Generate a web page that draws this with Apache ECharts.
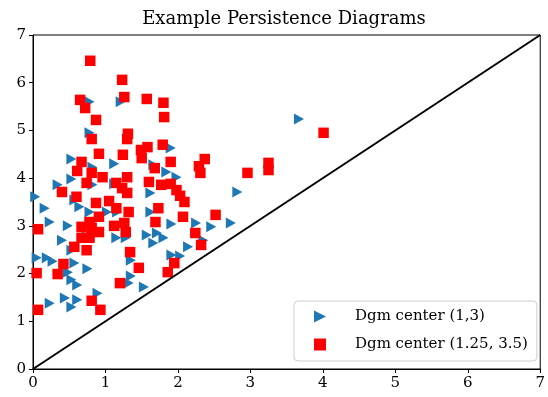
<!DOCTYPE html>
<html>
<head>
<meta charset="utf-8">
<script src="https://cdn.jsdelivr.net/npm/echarts@6/dist/echarts.min.js"></script>
<style>
  html, body { margin: 0; padding: 0; background: #fff; }
  #chart { width: 548px; height: 397px; }
</style>
</head>
<body>
<div id="chart"></div>
<script>
// Diagram 1: points (birth, death) around center (1, 3)
const dgmCenter1 = [
  [3.67, 5.24], [0.78, 5.60], [1.21, 5.60], [0.78, 4.95], [1.90, 4.63],
  [0.53, 4.40], [0.82, 4.23], [1.12, 4.30], [1.66, 4.28], [1.84, 4.13],
  [1.98, 4.02], [0.53, 3.98], [0.34, 3.86], [0.82, 3.86], [1.12, 3.88],
  [0.57, 3.54], [0.03, 3.61], [0.16, 3.37], [0.64, 3.40], [0.78, 3.29],
  [1.02, 3.29], [1.16, 3.29], [1.62, 3.69], [1.62, 3.29], [2.82, 3.71],
  [0.23, 3.08], [0.48, 3.00], [1.91, 3.04], [2.25, 3.06], [2.46, 2.98],
  [2.73, 3.06], [0.40, 2.70], [0.74, 2.77], [1.15, 2.75], [1.28, 2.75],
  [1.57, 2.81], [1.71, 2.85], [1.80, 2.75], [1.66, 2.64], [2.35, 2.70],
  [2.14, 2.56], [0.53, 2.49], [0.05, 2.33], [0.19, 2.33], [0.27, 2.26],
  [0.57, 2.22], [0.75, 2.10], [0.48, 2.03], [1.35, 2.28], [1.91, 2.39],
  [2.03, 2.37], [0.53, 1.87], [0.61, 1.76], [1.35, 1.95], [1.32, 1.80],
  [1.53, 1.72], [0.89, 1.59], [0.44, 1.49], [0.61, 1.45], [0.23, 1.38],
  [0.53, 1.30]
];

// Diagram 2: points (birth, death) around center (1.25, 3.5)
const dgmCenter2 = [
  [0.79, 6.46], [1.23, 6.06], [1.26, 5.70], [0.65, 5.64], [0.72, 5.47],
  [1.57, 5.66], [1.80, 5.58], [0.87, 5.22], [1.81, 5.28], [1.31, 4.93],
  [1.30, 4.82], [0.81, 4.82], [1.49, 4.59], [1.58, 4.65], [1.79, 4.70],
  [1.50, 4.42], [1.24, 4.49], [0.91, 4.51], [0.67, 4.34], [1.90, 4.34],
  [2.37, 4.40], [2.29, 4.25], [2.96, 4.11], [3.25, 4.32], [3.25, 4.17],
  [4.01, 4.95], [0.61, 4.15], [0.81, 4.11], [0.96, 4.02], [1.68, 4.21],
  [1.30, 4.02], [2.31, 4.11], [1.60, 3.92], [1.77, 3.86], [1.90, 3.88],
  [1.98, 3.75], [2.03, 3.63], [2.09, 3.50], [0.74, 3.90], [0.40, 3.71],
  [0.60, 3.61], [1.15, 3.90], [1.23, 3.79], [1.30, 3.69], [0.87, 3.48],
  [1.05, 3.52], [1.15, 3.37], [1.32, 3.29], [1.73, 3.37], [0.91, 3.19],
  [0.78, 3.08], [2.07, 3.19], [2.52, 3.23], [1.26, 3.06], [1.12, 3.00],
  [1.69, 3.08], [0.67, 2.98], [0.81, 2.96], [0.91, 2.87], [0.07, 2.93],
  [1.28, 2.87], [2.24, 2.85], [0.67, 2.75], [0.78, 2.75], [2.32, 2.60],
  [0.57, 2.56], [0.74, 2.49], [1.34, 2.45], [0.42, 2.20], [1.95, 2.22],
  [0.05, 2.01], [0.34, 1.99], [1.46, 2.12], [1.86, 2.03], [1.20, 1.80],
  [0.81, 1.43], [0.93, 1.24], [0.07, 1.24]
];

// Diagonal birth = death
const diagonal = [[0, 0], [7, 7]];

const axisTicks = [0, 1, 2, 3, 4, 5, 6, 7];
const seriesNames = ['Dgm center (1,3)', 'Dgm center (1.25, 3.5)'];
const titleText = 'Example Persistence Diagrams';

const FONT = 'DejaVu Serif';
const triPath = 'path://M0,0L10,5L0,10Z';

const chart = echarts.init(document.getElementById('chart'), null, { renderer: 'canvas' });

const axisCommon = {
  type: 'value',
  min: axisTicks[0],
  max: axisTicks[axisTicks.length - 1],
  interval: 1,
  axisLine: { show: true, onZero: false, lineStyle: { color: '#000', width: 1 } },
  axisTick: { show: true, inside: false, length: 4, lineStyle: { color: '#000', width: 1 } },
  axisLabel: { color: '#000', fontFamily: FONT, fontSize: 15, margin: 7 },
  splitLine: { show: false }
};

chart.setOption({
  animation: false,
  backgroundColor: '#fff',
  title: {
    text: titleText,
    left: 279,
    textAlign: 'center',
    top: 5,
    textStyle: { fontFamily: FONT, fontSize: 18, fontWeight: 'normal', color: '#000' }
  },
  grid: {
    left: 33, right: 2, top: 35, bottom: 28,
    show: true, borderColor: '#000', borderWidth: 1
  },
  xAxis: axisCommon,
  yAxis: axisCommon,
  legend: {
    orient: 'vertical',
    left: 294,
    top: 301,
    padding: [7, 9, 8, 20],
    itemWidth: 12,
    itemHeight: 12,
    itemGap: 11,
    borderColor: '#cccccc',
    borderWidth: 1,
    borderRadius: 4,
    backgroundColor: 'rgba(255,255,255,0.8)',
    textStyle: { fontFamily: FONT, fontSize: 15, color: '#000', lineHeight: 17, padding: [0, 0, 0, 24] },
    data: [
      { name: seriesNames[0], icon: triPath, itemStyle: { color: '#1f77b4' } },
      { name: seriesNames[1], icon: 'rect', itemStyle: { color: '#ff0000' } }
    ]
  },
  series: [
    {
      name: seriesNames[0],
      type: 'scatter',
      symbol: triPath,
      symbolSize: [10, 11],
      itemStyle: { color: '#1f77b4', opacity: 1 },
      data: dgmCenter1,
      z: 2
    },
    {
      name: seriesNames[1],
      type: 'scatter',
      symbol: 'rect',
      symbolSize: 10.5,
      itemStyle: { color: '#ff0000', opacity: 1 },
      data: dgmCenter2,
      z: 3
    },
    {
      name: 'diagonal',
      type: 'line',
      data: diagonal,
      symbol: 'none',
      lineStyle: { color: '#000', width: 2 },
      z: 4,
      silent: true
    }
  ]
});
</script>
</body>
</html>
